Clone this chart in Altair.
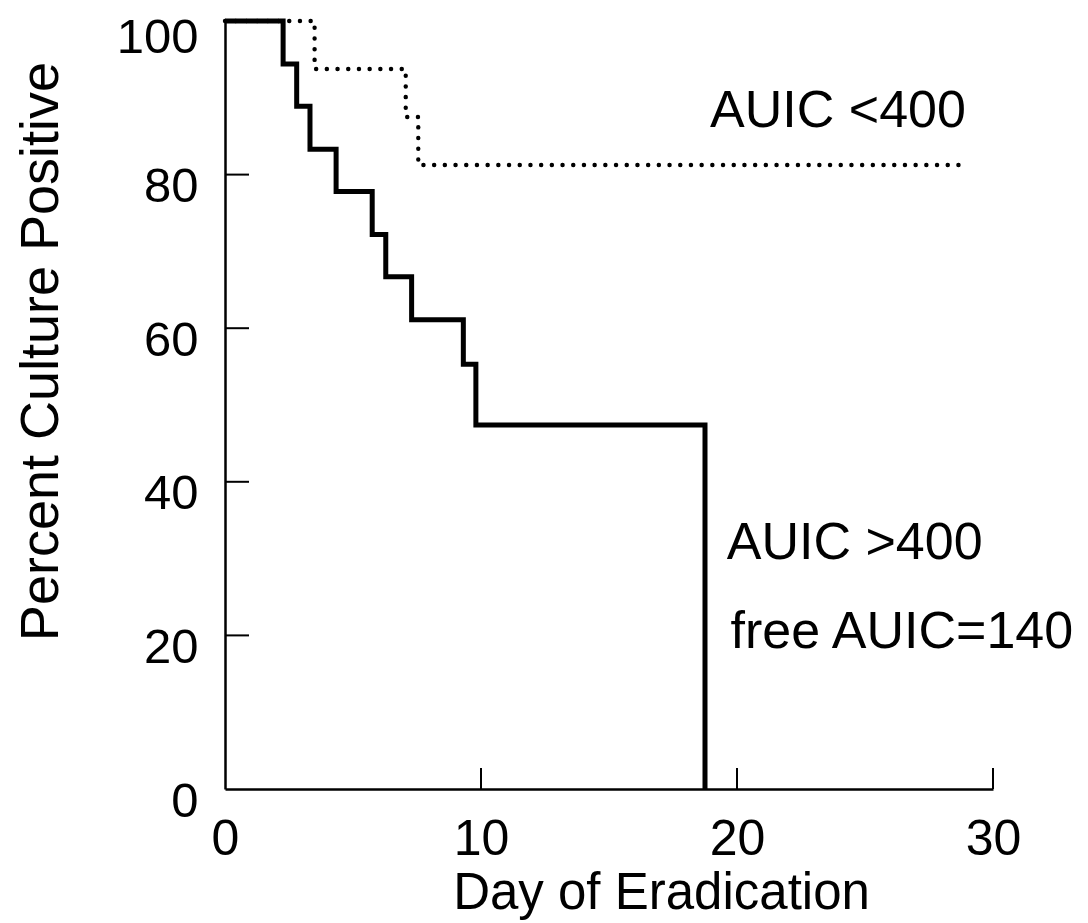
import altair as alt
import pandas as pd

# Kaplan-Meier style step curves
days_hi = [0, 2.27, 2.8, 3.32, 4.34, 5.75, 6.28, 7.29, 9.31, 9.80, 18.75]
pct_hi = [100, 94.4, 88.9, 83.3, 77.8, 72.2, 66.7, 61.1, 55.3, 47.4, 0]

days_lo = [0, 3.5, 7.06, 7.55, 29.0]
pct_lo = [100, 93.75, 87.5, 81.25, 81.25]

x_ticks = [0, 10, 20, 30]
y_ticks = [0, 20, 40, 60, 80, 100]
x_inner_ticks = [10, 20, 30]
y_inner_ticks = [20, 40, 60, 80]

label_text = ["AUIC <400", "AUIC >400", "free AUIC=140"]
label_x = [18.95, 19.6, 19.75]
label_y = [86.2, 29.9, 18.4]

FONT = "Liberation Sans"

hi = pd.DataFrame({"day": days_hi, "pct": pct_hi})
lo = pd.DataFrame({"day": days_lo, "pct": pct_lo})
labels = pd.DataFrame({"text": label_text, "day": label_x, "pct": label_y})
xt = pd.DataFrame({"day": x_inner_ticks})
yt = pd.DataFrame({"pct": y_inner_ticks})

xscale = alt.Scale(domain=[0, 30], nice=False, zero=False)
yscale = alt.Scale(domain=[0, 100], nice=False, zero=False)

xaxis = alt.Axis(
    values=x_ticks, ticks=False, tickSize=0, grid=False, domainColor="black",
    domainWidth=2.5, labelFont=FONT, labelFontSize=50, labelColor="black",
    labelPadding=25, labelFlush=False, labelOverlap=False,
    title="Day of Eradication", titleFont=FONT, titleFontSize=51,
    titleFontWeight="normal", titleColor="black", titleX=436, titleY=119,
    titleAlign="center", titleBaseline="alphabetic",
)
yaxis = alt.Axis(
    values=y_ticks, ticks=False, tickSize=0, grid=False, domainColor="black",
    domainWidth=2.5, labelFont=FONT, labelFontSize=49, labelColor="black",
    labelPadding=27,
    labelOffset=alt.condition("datum.value == 100", alt.value(16), alt.value(12)),
    labelFlush=False, labelOverlap=False,
    title="Percent Culture Positive", titleFont=FONT, titleFontSize=54,
    titleFontWeight="normal", titleColor="black", titleX=-168, titleY=330,
    titleAlign="center", titleBaseline="alphabetic", titleAngle=270,
)

base_x = alt.X("day:Q", scale=xscale, axis=xaxis)
base_y = alt.Y("pct:Q", scale=yscale, axis=yaxis)

lo_line = alt.Chart(lo).mark_line(
    interpolate="step-after", color="black", strokeWidth=4.4,
    strokeDash=[0.1, 10.6], strokeCap="round",
).encode(x=base_x, y=base_y)

hi_line = alt.Chart(hi).mark_line(
    interpolate="step-after", color="black", strokeWidth=5,
    strokeJoin="miter", strokeCap="butt",
).encode(x=alt.X("day:Q", scale=xscale), y=alt.Y("pct:Q", scale=yscale))

xtick_marks = alt.Chart(xt).mark_rule(color="black", strokeWidth=2).encode(
    x=alt.X("day:Q", scale=xscale), y=alt.value(768), y2=alt.value(747)
)
ytick_marks = alt.Chart(yt).mark_rule(color="black", strokeWidth=2).encode(
    y=alt.Y("pct:Q", scale=yscale), x=alt.value(0), x2=alt.value(24)
)

text = alt.Chart(labels).mark_text(
    font=FONT, fontSize=52, align="left", baseline="alphabetic", color="black"
).encode(x=alt.X("day:Q", scale=xscale), y=alt.Y("pct:Q", scale=yscale), text="text:N")

chart = alt.layer(lo_line, hi_line, xtick_marks, ytick_marks, text).properties(
    width=768, height=768,
    background="white",
    autosize=alt.AutoSizeParams(type="none"),
    padding={"left": 217, "top": 13, "right": 87, "bottom": 131},
).configure_view(stroke=None, strokeWidth=0)

chart.save("out.html", embed_options={"renderer": "svg", "actions": False})
